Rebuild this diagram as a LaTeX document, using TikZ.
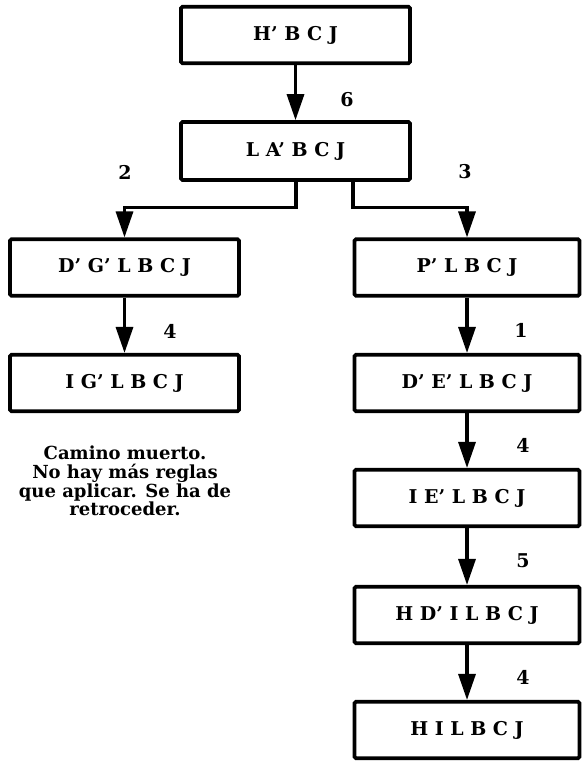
\documentclass[tikz,border=0pt]{standalone}
\usepackage{fontspec}
\setmainfont{DejaVu Serif}
\usetikzlibrary{arrows.meta}

\begin{document}
\begin{tikzpicture}[x = 1pt, y = -1pt,
		caja/.style = {draw, line width = 3.6pt, minimum width = 229pt, minimum height = 56.5pt, inner sep = 0pt, rounded corners = 1.5pt, font = \fontsize{19}{22}\selectfont\bfseries},
		flecha/.style = {line width = 3.2pt, -{Triangle[length = 26pt, width = 17pt]}},
		regla/.style = {font = \fontsize{19}{21}\selectfont\bfseries}]
	\def\xIZQ{124.5};
	\def\xCEN{295.5};
	\def\xDER{467};

	\useasboundingbox (0,0) rectangle (583,762);

	% cajas de estados
	\begin{scope}
		\node [caja] (hbcj) at (\xCEN,35) {H’ B C J};
		\node [caja, minimum height = 58pt] (labcj) at (\xCEN,151) {L A’ B C J};
		\node [caja] (dglbcj) at (\xIZQ,267.5) {D’ G’ L B C J};
		\node [caja] (iglbcj) at (\xIZQ,383) {I G’ L B C J};
		\node [caja, minimum width = 225pt] (plbcj) at (\xDER,267.5) {P’ L B C J};
		\node [caja, minimum width = 225pt] (delbcj) at (\xDER,383) {D’ E’ L B C J};
		\node [caja, minimum width = 225pt] (ielbcj) at (\xDER,498) {I E’ L B C J};
		\node [caja, minimum width = 225pt] (hdilbcj) at (\xDER,615) {H D’ I L B C J};
		\node [caja, minimum width = 225pt] (hilbcj) at (\xDER,730) {H I L B C J};
	\end{scope}

	% flechas
	\begin{scope}[flecha]
		\draw (hbcj) -- (labcj);
		\draw ([xshift = 0.5pt]labcj.south) -- ++(0,26) -| (dglbcj.north);
		\draw ([xshift = 57.5pt]labcj.south) -- ++(0,26) -| (plbcj.north);
		\draw (dglbcj) -- (iglbcj);
		\draw (plbcj) -- (delbcj);
		\draw (delbcj) -- (ielbcj);
		\draw (ielbcj) -- (hdilbcj);
		\draw (hdilbcj) -- (hilbcj);
	\end{scope}

	% numeros de regla
	\begin{scope}[regla]
		\node (r6) at (347,100) {6};
		\node (r2) at (125,172) {2};
		\node (r3) at (465,172) {3};
		\node (r4a) at (170,331) {4};
		\node (r1) at (521,330) {1};
		\node (r4b) at (523,445) {4};
		\node (r5) at (523,561) {5};
		\node (r4c) at (523,677) {4};
	\end{scope}

	\node [align = center, font = \fontsize{18}{18.6}\selectfont\bfseries] (nota) at (125,481) {Camino muerto.\\No hay más reglas\\que aplicar. Se ha de\\retroceder.};
\end{tikzpicture}
\end{document}
